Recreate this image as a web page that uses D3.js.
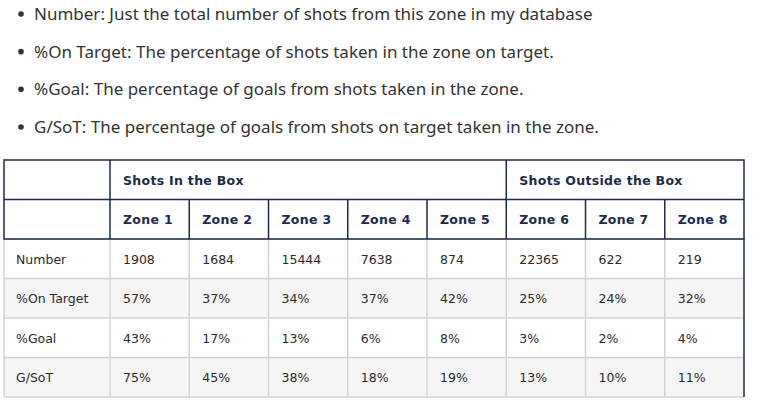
<!DOCTYPE html>
<html><head><meta charset="utf-8">
<script src="https://cdn.jsdelivr.net/npm/d3@7"></script>
<style>body{margin:0;background:#fff}</style>
</head><body>
<svg id="viz" width="763" height="412"></svg>
<script>
var bullets = [
  "Number: Just the total number of shots from this zone in my database",
  "%On Target: The percentage of shots taken in the zone on target.",
  "%Goal: The percentage of goals from shots taken in the zone.",
  "G/SoT: The percentage of goals from shots on target taken in the zone."
];
var groups = [["Shots In the Box", 5], ["Shots Outside the Box", 3]];
var zones = ["Zone 1","Zone 2","Zone 3","Zone 4","Zone 5","Zone 6","Zone 7","Zone 8"];
var rowLabels = ["Number","%On Target","%Goal","G/SoT"];
var number = ["1908","1684","15444","7638","874","22365","622","219"];
var onTarget = ["57%","37%","34%","37%","42%","25%","24%","32%"];
var goal = ["43%","17%","13%","6%","8%","3%","2%","4%"];
var gsot = ["75%","45%","38%","18%","19%","13%","10%","11%"];
var rows = [number, onTarget, goal, gsot];

var svg = d3.select("#viz");
var navy = "#1c2b4b";

// bullet list
var by = d3.scaleLinear().domain([0, 3]).range([14, 127]);
bullets.forEach(function(t, i){
  svg.append("circle").attr("cx", 21).attr("cy", by(i)).attr("r", 2.8).attr("fill", "#333");
  svg.append("text").attr("x", 34).attr("y", by(i) + 6).text(t)
    .style("font-family", "'Noto Sans', sans-serif").style("font-size", "17px").attr("fill", "#333");
});

// table geometry
var x = d3.scaleLinear().domain([0, 8]).range([110, 744]);
var left = 4;
var y = d3.scaleLinear().domain([0, 6]).range([160, 397]);

// data row backgrounds
rows.forEach(function(r, i){
  svg.append("rect").attr("x", left).attr("y", y(i + 2)).attr("width", x(8) - left)
    .attr("height", y(i + 3) - y(i + 2)).attr("fill", i % 2 ? "#f5f5f5" : "#fff");
});

// light grid for data rows
for (var i = 0; i <= 4; i++) {
  svg.append("line").attr("x1", left).attr("x2", x(8)).attr("y1", y(i + 2)).attr("y2", y(i + 2))
    .attr("stroke", "#d0d4d9").attr("stroke-width", 1.5);
}
for (var c = 0; c <= 8; c++) {
  svg.append("line").attr("x1", x(c)).attr("x2", x(c)).attr("y1", y(2)).attr("y2", y(6))
    .attr("stroke", c === 8 ? navy : "#d0d4d9").attr("stroke-width", 1.5);
}
svg.append("line").attr("x1", left).attr("x2", left).attr("y1", y(2)).attr("y2", y(6))
  .attr("stroke", "#d0d4d9").attr("stroke-width", 1.5);

// header borders
svg.append("rect").attr("x", left).attr("y", y(0)).attr("width", x(8) - left)
  .attr("height", y(2) - y(0)).attr("fill", "none").attr("stroke", navy).attr("stroke-width", 1.5);
svg.append("line").attr("x1", left).attr("x2", x(8)).attr("y1", y(1)).attr("y2", y(1)).attr("stroke", navy).attr("stroke-width", 1.5);
svg.append("line").attr("x1", x(0)).attr("x2", x(0)).attr("y1", y(0)).attr("y2", y(2)).attr("stroke", navy).attr("stroke-width", 1.5);
svg.append("line").attr("x1", x(5)).attr("x2", x(5)).attr("y1", y(0)).attr("y2", y(2)).attr("stroke", navy).attr("stroke-width", 1.5);
for (var c2 = 1; c2 < 8; c2++) {
  if (c2 === 5) continue;
  svg.append("line").attr("x1", x(c2)).attr("x2", x(c2)).attr("y1", y(1)).attr("y2", y(2)).attr("stroke", navy).attr("stroke-width", 1.5);
}

function txt(tx, ty, t, bold) {
  var e = svg.append("text").attr("x", tx).attr("y", ty).text(t)
    .style("font-family", "'DejaVu Sans', sans-serif").style("font-size", "12.5px")
    .attr("fill", bold ? navy : "#2b2b2b");
  if (bold) e.style("font-weight", "bold").style("letter-spacing", "0.3px");
  return e;
}

var start = 0;
groups.forEach(function(g){
  txt(x(start) + 13, (y(0) + y(1)) / 2 + 5, g[0], true);
  start += g[1];
});
zones.forEach(function(z, i){ txt(x(i) + 13, (y(1) + y(2)) / 2 + 5, z, true); });
rowLabels.forEach(function(l, i){
  var cy = (y(i + 2) + y(i + 3)) / 2 + 5;
  txt(16, cy, l, false);
  rows[i].forEach(function(v, j){ txt(x(j) + 13, cy, v, false); });
});
</script>
</body></html>
